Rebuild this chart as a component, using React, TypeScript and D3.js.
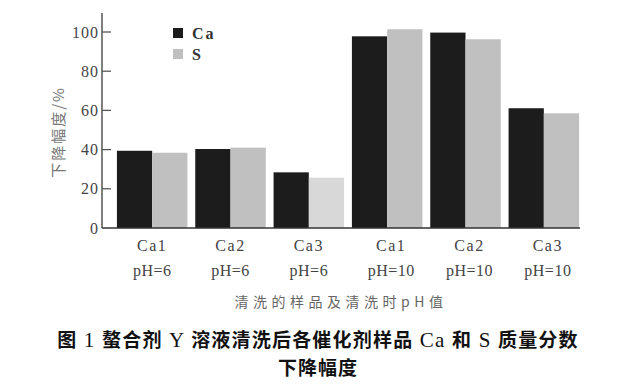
import React, { useRef, useEffect } from 'react';
import * as d3 from 'd3';

const samples = ['Ca1', 'Ca2', 'Ca3', 'Ca1', 'Ca2', 'Ca3'];
const phLabels = ['pH=6', 'pH=6', 'pH=6', 'pH=10', 'pH=10', 'pH=10'];
const caValues = [39.4, 40.3, 28.4, 97.8, 99.7, 61.1];
const sValues = [38.4, 41.0, 25.7, 101.4, 96.3, 58.5];
const yTicks = [0, 20, 40, 60, 80, 100];
const seriesNames = ['Ca', 'S'];

const serif = '"Liberation Serif", "DejaVu Serif", serif';
const cjk = '"Noto Sans CJK SC", sans-serif';

const App = () => {
  const svgRef = useRef<SVGSVGElement>(null);

  useEffect(() => {
    const svg = d3.select(svgRef.current);
    svg.selectAll('*').remove();

    const width = 640;
    const height = 388;
    svg.attr('width', width).attr('height', height).style('background', '#fff');

    const x0 = d3.scaleBand<number>()
      .domain(d3.range(samples.length))
      .range([113, 583])
      .paddingInner(0.1)
      .paddingOuter(0.05);
    const x1 = d3.scaleBand<string>()
      .domain(seriesNames)
      .range([0, x0.bandwidth()]);
    const y = d3.scaleLinear().domain([0, 100]).range([228, 32]);

    const g = svg.append('g');

    // bars
    const groups = g.selectAll('.grp')
      .data(d3.range(samples.length))
      .enter()
      .append('g')
      .attr('transform', i => `translate(${x0(i)},0)`);

    groups.append('rect')
      .attr('x', x1('Ca')!)
      .attr('y', i => y(caValues[i]))
      .attr('width', x1.bandwidth())
      .attr('height', i => y(0) - y(caValues[i]))
      .attr('fill', '#1c1c1c');

    groups.append('rect')
      .attr('x', x1('S')!)
      .attr('y', i => y(sValues[i]))
      .attr('width', x1.bandwidth())
      .attr('height', i => y(0) - y(sValues[i]))
      .attr('fill', i => (i === 2 ? '#d8d8d8' : '#c0c0c0'));

    // axes lines
    g.append('line')
      .attr('x1', 102).attr('x2', 102)
      .attr('y1', 13).attr('y2', y(0))
      .attr('stroke', '#555').attr('stroke-width', 1.5);
    g.append('line')
      .attr('x1', 102).attr('x2', 580)
      .attr('y1', y(0)).attr('y2', y(0))
      .attr('stroke', '#333').attr('stroke-width', 1.5);

    // y ticks
    const ticks = g.selectAll('.tick')
      .data(yTicks)
      .enter()
      .append('g')
      .attr('transform', d => `translate(0,${y(d)})`);
    ticks.filter(d => d > 0).append('line')
      .attr('x1', 102).attr('x2', 111)
      .attr('stroke', '#555').attr('stroke-width', 1.3);
    ticks.append('text')
      .attr('x', 99)
      .attr('dy', '0.35em')
      .attr('text-anchor', 'end')
      .style('font-family', serif)
      .style('font-size', '16px')
      .style('letter-spacing', '1px')
      .style('fill', '#444')
      .text(d => d);

    // y label
    g.append('text')
      .attr('transform', 'translate(64,132) rotate(-90)')
      .attr('text-anchor', 'middle')
      .style('font-family', cjk)
      .style('font-size', '15px')
      .style('letter-spacing', '2px')
      .style('fill', '#777')
      .text('下降幅度/%');

    // x labels
    const labels = g.selectAll('.xl')
      .data(d3.range(samples.length))
      .enter()
      .append('g')
      .attr('transform', i => `translate(${x0(i)! + x0.bandwidth() / 2 + (i > 2 ? 4 : 0)},0)`);
    labels.append('text')
      .attr('y', 251)
      .attr('text-anchor', 'middle')
      .style('font-family', serif)
      .style('font-size', '16px')
      .style('letter-spacing', '1.5px')
      .style('fill', '#444')
      .text(i => samples[i]);
    labels.append('text')
      .attr('y', 276)
      .attr('text-anchor', 'middle')
      .style('font-family', serif)
      .style('font-size', '16px')
      .style('letter-spacing', '0.5px')
      .style('fill', '#444')
      .text(i => phLabels[i]);

    // x title
    g.append('text')
      .attr('x', 341)
      .attr('y', 307)
      .attr('text-anchor', 'middle')
      .style('font-family', cjk)
      .style('font-size', '14px')
      .style('letter-spacing', '4.5px')
      .style('fill', '#666')
      .text('清洗的样品及清洗时pH值');

    // legend
    const legend = g.selectAll('.lg')
      .data(seriesNames)
      .enter()
      .append('g')
      .attr('transform', (d, i) => `translate(173,${28 + i * 21})`);
    legend.append('rect')
      .attr('width', 10).attr('height', 10)
      .attr('fill', (d, i) => (i === 0 ? '#1c1c1c' : '#c0c0c0'));
    legend.append('text')
      .attr('x', 19)
      .attr('y', 5)
      .attr('dy', '0.35em')
      .style('font-family', serif)
      .style('font-size', '16px')
      .style('font-weight', 'bold')
      .style('letter-spacing', '2px')
      .style('fill', '#333')
      .text(d => d);

    // caption
    const cap = g.append('text')
      .attr('x', 318)
      .attr('y', 347)
      .attr('text-anchor', 'middle')
      .style('letter-spacing', '1.2px')
      .style('fill', '#111');
    const parts: [string, boolean][] = [
      ['图', true], [' 1 ', false], ['螯合剂', true], [' Y ', false],
      ['溶液清洗后各催化剂样品', true], [' Ca ', false], ['和', true], [' S ', false], ['质量分数', true]
    ];
    parts.forEach(([t, isCjk]) => {
      cap.append('tspan')
        .style('font-family', isCjk ? cjk : serif)
        .style('font-weight', isCjk ? 'bold' : 'normal')
        .style('font-size', isCjk ? '19px' : '21px')
        .text(t);
    });
    g.append('text')
      .attr('x', 318)
      .attr('y', 375)
      .attr('text-anchor', 'middle')
      .style('font-family', cjk)
      .style('font-weight', 'bold')
      .style('font-size', '19px')
      .style('letter-spacing', '1px')
      .style('fill', '#111')
      .text('下降幅度');
  }, []);

  return <svg ref={svgRef} style={{ position: 'absolute', left: 0, top: 0 }}></svg>;
};

export default App;
